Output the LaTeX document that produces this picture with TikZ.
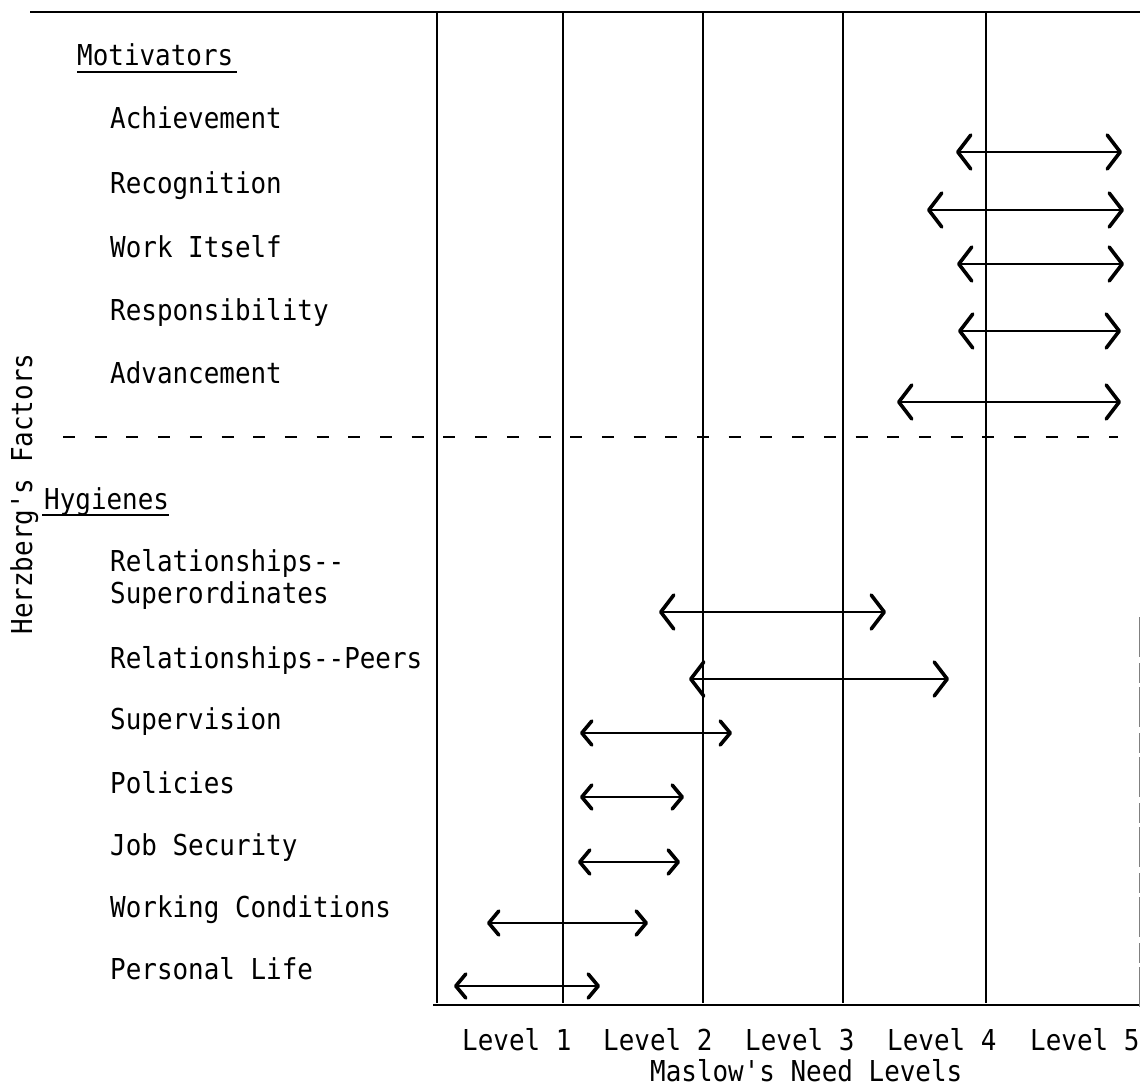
\documentclass[tikz,border=0pt]{standalone}
\usepackage{fontspec}
\setmonofont{DejaVu Sans Mono}[FakeStretch=0.9]
\usetikzlibrary{arrows.meta}
\begin{document}
\begin{tikzpicture}[x=1pt,y=-1pt,
  txt/.style={font=\ttfamily\fontsize{28.8pt}{34pt}\selectfont, inner sep=0pt},
  lbl/.style={txt, anchor=base west},
  grid/.style={line width=1.3pt},
  rule/.style={line width=2pt},
  bigar/.style={line width=2pt,
    {Straight Barb[length=13pt,width=34pt,line width=3.6pt,round]}-{Straight Barb[length=13pt,width=34pt,line width=3.6pt,round]}},
  smar/.style={line width=2pt,
    {Straight Barb[length=10pt,width=24pt,line width=3.6pt,round]}-{Straight Barb[length=10pt,width=24pt,line width=3.6pt,round]}},
  sep/.style={line width=2.8pt, dash pattern=on 12pt off 19.7pt}
]
\useasboundingbox (0,0) rectangle (1140,1086);

% frame lines
\draw[rule] (30,12) -- (1140,12);
\draw[rule] (433,1005) -- (1140,1005);
\foreach \x in {437,563,703,843,986}{
  \draw[grid] (\x,12) -- (\x,1003);
}
\draw[line width=1pt, gray, dash pattern=on 40pt off 6pt on 20pt off 4pt] (1139,617) -- (1139,1012);

% dashed separator
\draw[sep] (63,437) -- (1118,437);

% headings
\node[lbl] (mot) at (77,66) {Motivators};
\draw[line width=1.6pt] ([yshift=-6pt]mot.base west) -- ([yshift=-6pt,xshift=4pt]mot.base east);
\node[lbl] (hyg) at (44,509) {Hygienes};
\draw[line width=1.6pt] ([yshift=-6pt,xshift=-2pt]hyg.base west) -- ([yshift=-6pt]hyg.base east);

% motivators
\node[lbl] (ach) at (110,129) {Achievement};
\node[lbl] (rec) at (110,194) {Recognition};
\node[lbl] (wrk) at (110,257) {Work Itself};
\node[lbl] (res) at (110,320) {Responsibility};
\node[lbl] (adv) at (110,383) {Advancement};

% hygienes
\node[lbl] (rs1) at (110,571) {Relationships--};
\node[lbl] (rs2) at (110,603) {Superordinates};
\node[lbl] (rp)  at (110,668) {Relationships--Peers};
\node[lbl] (sup) at (110,729) {Supervision};
\node[lbl] (pol) at (110,793) {Policies};
\node[lbl] (job) at (110,855) {Job Security};
\node[lbl] (wc)  at (110,917) {Working Conditions};
\node[lbl] (pl)  at (110,979) {Personal Life};

% axis title (rotated)
\node[txt, rotate=90, anchor=base] (hz) at (32,494) {Herzberg's Factors};

% level labels
\node[lbl] (l1) at (462,1050) {Level 1};
\node[lbl] (l2) at (603,1050) {Level 2};
\node[lbl] (l3) at (745,1050) {Level 3};
\node[lbl] (l4) at (887,1050) {Level 4};
\node[lbl] (l5) at (1030,1050) {Level 5};
\node[lbl] (ms) at (650,1081) {Maslow's Need Levels};

% arrows
\draw[bigar] (956,152) -- (1122,152);
\draw[bigar] (927,210) -- (1124,210);
\draw[bigar] (957,264) -- (1124,264);
\draw[bigar] (958,331) -- (1121,331);
\draw[bigar] (897,402) -- (1121,402);
\draw[bigar] (659,612) -- (886,612);
\draw[bigar] (689,679) -- (949,679);
\draw[smar] (580,733) -- (732,733);
\draw[smar] (580,797) -- (684,797);
\draw[smar] (578,862) -- (680,862);
\draw[smar] (487,923) -- (648,923);
\draw[smar] (454,986) -- (600,986);
\end{tikzpicture}
\end{document}
